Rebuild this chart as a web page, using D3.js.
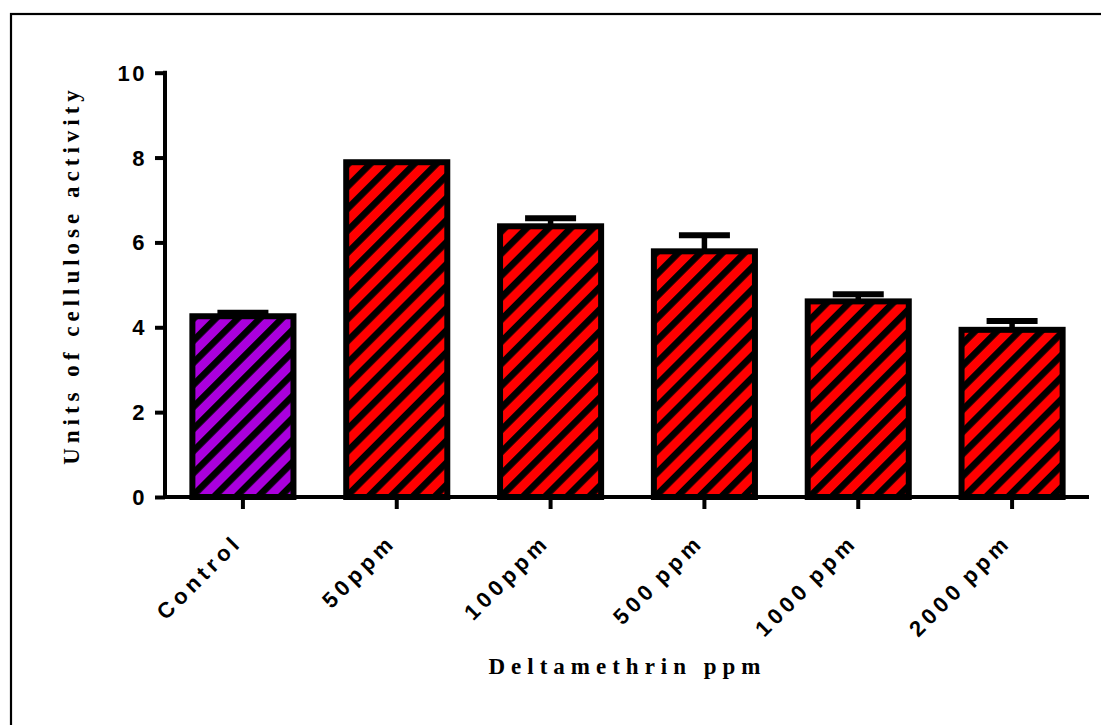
<!DOCTYPE html>
<html>
<head>
<meta charset="utf-8">
<script src="https://cdn.jsdelivr.net/npm/d3@7"></script>
<style>
  html, body { margin: 0; padding: 0; background: #fff; }
  svg { display: block; }
</style>
</head>
<body>
<script>
// Cellulase activity under deltamethrin exposure (mean with SEM)
const categories = ["Control", "50ppm", "100ppm", "500 ppm", "1000 ppm", "2000 ppm"];
const means      = [4.26, 7.89, 6.38, 5.79, 4.61, 3.94];
const sems       = [0.08, 0.00, 0.19, 0.38, 0.17, 0.21];
const groups     = ["control", "treated", "treated", "treated", "treated", "treated"];
const yTicks     = [0, 2, 4, 6, 8, 10];

const W = 1101, H = 725;
const plot = { left: 166, right: 1089, top: 72.7, bottom: 497 };

const svg = d3.select("body").append("svg")
  .attr("width", W).attr("height", H);

// hatch patterns: black diagonal stripes over the fill colour
const fills = { control: "#AA00DD", treated: "#FF0000" };
const defs = svg.append("defs");
Object.entries(fills).forEach(([key, col]) => {
  const p = defs.append("pattern")
    .attr("id", "hatch-" + key)
    .attr("patternUnits", "userSpaceOnUse")
    .attr("width", 15.6).attr("height", 15.6)
    .attr("patternTransform", "rotate(45)");
  p.append("rect").attr("width", 15.6).attr("height", 15.6).attr("fill", col);
  p.append("rect").attr("x", 0).attr("width", 6.6).attr("height", 15.6).attr("fill", "#000");
});

// outer frame
svg.append("rect")
  .attr("x", 11).attr("y", 14)
  .attr("width", W + 20).attr("height", H + 20)
  .attr("fill", "none").attr("stroke", "#000").attr("stroke-width", 2.2);

const x = d3.scaleBand().domain(categories).range([plot.left, plot.right]).padding(0);
const y = d3.scaleLinear().domain([0, 10]).range([plot.bottom, plot.top]);

const barW = x.bandwidth() * 0.657;
const capW = 51;
const data = categories.map((c, i) => ({ c, m: means[i], s: sems[i], g: groups[i] }));

// error bars (upper side only)
const eb = svg.append("g");
data.filter(d => d.s > 0).forEach(d => {
  const cx = x(d.c) + x.bandwidth() / 2;
  eb.append("line")
    .attr("x1", cx).attr("x2", cx)
    .attr("y1", y(d.m)).attr("y2", y(d.m + d.s))
    .attr("stroke", "#000").attr("stroke-width", 5.5);
  eb.append("line")
    .attr("x1", cx - capW / 2).attr("x2", cx + capW / 2)
    .attr("y1", y(d.m + d.s)).attr("y2", y(d.m + d.s))
    .attr("stroke", "#000").attr("stroke-width", 6);
});

// bars
svg.append("g").selectAll("rect").data(data).join("rect")
  .attr("x", d => x(d.c) + (x.bandwidth() - barW) / 2)
  .attr("width", barW)
  .attr("y", d => y(d.m))
  .attr("height", d => y(0) - y(d.m))
  .attr("fill", d => `url(#hatch-${d.g})`)
  .attr("stroke", "#000").attr("stroke-width", 6);

// y axis
const yAxis = svg.append("g")
  .attr("transform", `translate(${plot.left - 1},0)`)
  .call(d3.axisLeft(y).tickValues(yTicks).tickFormat(d3.format("d")).tickSize(10).tickSizeOuter(0).tickPadding(8));
yAxis.select(".domain").attr("stroke-width", 4).attr("stroke", "#000")
  .attr("d", `M0,${plot.bottom + 2}V${plot.top - 2}`);
yAxis.selectAll(".tick line").attr("stroke-width", 4).attr("stroke", "#000");
yAxis.selectAll(".tick text")
  .attr("font-family", "'Liberation Sans', Arial, sans-serif")
  .attr("font-weight", "bold").attr("font-size", 22)
  .attr("letter-spacing", 2.5)
  .attr("dy", "0.34em")
  .attr("fill", "#000");

// x axis
const xAxis = svg.append("g")
  .attr("transform", `translate(0,${plot.bottom})`)
  .call(d3.axisBottom(x).tickSize(12).tickSizeOuter(0).tickPadding(0));
xAxis.select(".domain").attr("stroke-width", 4).attr("stroke", "#000")
  .attr("d", `M${plot.left - 3},0H${plot.right}`);
xAxis.selectAll(".tick line").attr("stroke-width", 4).attr("stroke", "#000");
xAxis.selectAll(".tick text")
  .attr("font-family", "'Liberation Sans', Arial, sans-serif")
  .attr("font-weight", "bold").attr("font-size", 22)
  .attr("letter-spacing", 4.5)
  .attr("word-spacing", -4)
  .attr("fill", "#000")
  .attr("text-anchor", "end")
  .attr("dy", 0)
  .attr("transform", "translate(-8,38) rotate(-45)");

// axis titles
svg.append("text")
  .attr("x", (plot.left + plot.right) / 2).attr("y", 674)
  .attr("text-anchor", "middle")
  .attr("font-family", "'Liberation Serif', 'Times New Roman', serif")
  .attr("font-weight", "bold").attr("font-size", 23)
  .attr("letter-spacing", 6)
  .text("Deltamethrin ppm");

svg.append("text")
  .attr("transform", `translate(79,${275}) rotate(-90)`)
  .attr("text-anchor", "middle")
  .attr("font-family", "'Liberation Serif', 'Times New Roman', serif")
  .attr("font-weight", "bold").attr("font-size", 23)
  .attr("letter-spacing", 5)
  .text("Units of cellulose activity");
</script>
</body>
</html>
